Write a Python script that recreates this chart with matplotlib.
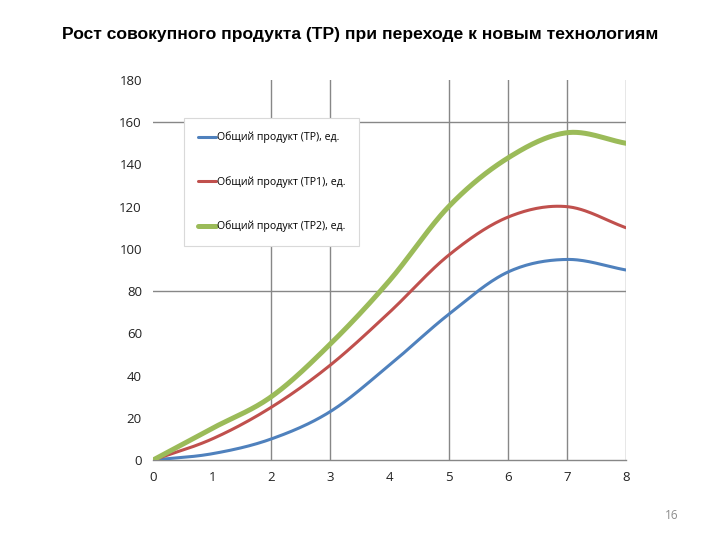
import numpy as np
import matplotlib.pyplot as plt

# данные графика
x = [0, 1, 2, 3, 4, 5, 6, 7, 8]
tp = [0, 3, 10, 23, 45, 69, 89, 95, 90]
tp1 = [0, 10, 25, 45, 70, 97, 115, 120, 110]
tp2 = [0, 15, 30, 55, 85, 120, 143, 155, 150]
labels = ['Общий продукт (TP), ед.', 'Общий продукт (TP1), ед.', 'Общий продукт (TP2), ед.']
colors = ['#4F81BD', '#C0504D', '#9BBB59']
widths = [2.2, 2.2, 3.6]
title = 'Рост совокупного продукта (TP) при переходе к новым технологиям'

def smooth(xs, ys, n=30):
    # сглаживание как в Excel (кривая Catmull-Rom)
    xs = np.asarray(xs, float)
    ys = np.asarray(ys, float)
    px = np.concatenate(([2 * xs[0] - xs[1]], xs, [2 * xs[-1] - xs[-2]]))
    py = np.concatenate(([2 * ys[0] - ys[1]], ys, [2 * ys[-1] - ys[-2]]))
    t = np.linspace(0, 1, n)[:, None]
    outx, outy = [], []
    for i in range(1, len(px) - 2):
        for p, out in ((px, outx), (py, outy)):
            p0, p1, p2, p3 = p[i - 1], p[i], p[i + 1], p[i + 2]
            c = 0.5 * ((2 * p1) + (-p0 + p2) * t + (2 * p0 - 5 * p1 + 4 * p2 - p3) * t ** 2
                       + (-p0 + 3 * p1 - 3 * p2 + p3) * t ** 3)
            out.append(c.ravel())
    return np.concatenate(outx), np.concatenate(outy)

fig = plt.figure(figsize=(7.2, 5.4), dpi=100)
ax = fig.add_axes([0.2125, 0.148, 0.657, 0.704])

ax.set_xlim(0, 8)
ax.set_ylim(0, 180)
for s in ['top', 'right', 'left']:
    ax.spines[s].set_visible(False)
ax.spines['bottom'].set_color('#878787')
ax.spines['bottom'].set_linewidth(1.0)

# сетка как в исходнике
for gx in [2, 3, 5, 6, 7, 8]:
    ax.axvline(gx, color='#878787', lw=1.0, zorder=1)
for gy in [80, 160]:
    ax.axhline(gy, color='#878787', lw=1.0, zorder=1)

for ys, lab, c, w in zip([tp, tp1, tp2], labels, colors, widths):
    sx, sy = smooth(x, ys)
    ax.plot(sx, sy, color=c, lw=w, label=lab, zorder=3, solid_capstyle='round')

ax.set_xticks(x)
ax.set_yticks(range(0, 181, 20))
ax.tick_params(length=0, labelsize=9.5, labelcolor='#222222', pad=8)
for lbl in ax.get_xticklabels() + ax.get_yticklabels():
    lbl.set_family('Open Sans')

leg = ax.legend(loc='upper left', bbox_to_anchor=(0.066, 0.9), frameon=True,
                fancybox=False, edgecolor='#D9D9D9', framealpha=1,
                prop={'family': 'Open Sans', 'size': 7.6}, labelspacing=3.1,
                handlelength=1.7, handletextpad=0.1, borderpad=1.3, borderaxespad=0)
leg.get_frame().set_linewidth(0.8)
leg.set_zorder(2)

fig.text(0.5, 0.937, title, ha='center', va='center', fontsize=12.6, fontweight='bold',
         family=['Liberation Sans Narrow', 'Liberation Sans', 'DejaVu Sans'])
fig.text(0.933, 0.046, '16', ha='center', va='center', fontsize=8.5, color='#8C8C8C',
         family='Open Sans')

fig.savefig('out.png', dpi=100)
